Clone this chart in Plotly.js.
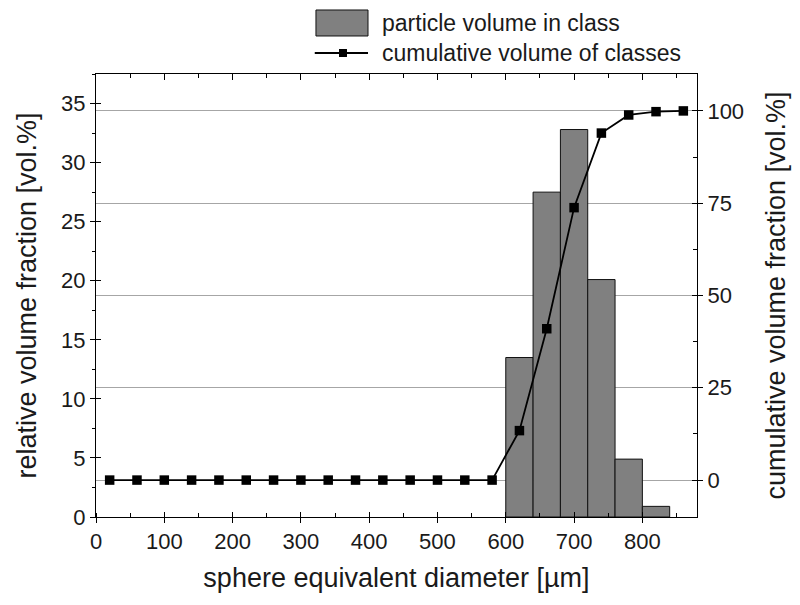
<!DOCTYPE html>
<html>
<head>
<meta charset="utf-8">
<script src="https://cdn.plot.ly/plotly-3.0.1.min.js"></script>
<style>html,body{margin:0;padding:0;background:#fff;}#chart{width:800px;height:605px;}</style>
</head>
<body>
<div id="chart"></div>
<script>
// Histogram classes (bin centres, µm) and relative volume fraction [vol.%]
var binCenters = [620, 660, 700, 740, 780, 820];
var binValues = [13.5, 27.5, 32.8, 20.1, 4.9, 0.9];
var binWidth = 40;

// Cumulative volume of classes [vol.%]
var cumX = [20, 60, 100, 140, 180, 220, 260, 300, 340, 380, 420, 460, 500, 540, 580, 620, 660, 700, 740, 780, 820, 860];
var cumY = [0, 0, 0, 0, 0, 0, 0, 0, 0, 0, 0, 0, 0, 0, 0, 13.4, 41.0, 73.8, 94.0, 98.9, 99.8, 100];

// Tick labels
var xTicks = [0, 100, 200, 300, 400, 500, 600, 700, 800];
var yLeftTicks = [0, 5, 10, 15, 20, 25, 30, 35];
var yRightTicks = [0, 25, 50, 75, 100];

var names = ["particle volume in class", "cumulative volume of classes"];

var FONT = "Arial, 'Liberation Sans', sans-serif";
var TXT = "#1a1a1a";
var TICKSZ = 22, TITLESZ = 27, LEGSZ = 23;

var traces = [
  {
    type: "bar", x: binCenters, y: binValues, width: binWidth,
    marker: {color: "#808080", line: {color: "#111", width: 1}},
    name: names[0], xaxis: "x", yaxis: "y", showlegend: false
  },
  {
    type: "scatter", mode: "lines+markers", x: cumX, y: cumY,
    line: {color: "#000", width: 1.8},
    marker: {symbol: "square", size: 9.5, color: "#000"},
    name: names[1], xaxis: "x", yaxis: "y2", showlegend: false
  },
  // empty helper traces so that the tick-only overlay axes are drawn
  {type: "scatter", x: [], y: [], xaxis: "x2", yaxis: "y", showlegend: false, hoverinfo: "skip"},
  {type: "scatter", x: [], y: [], xaxis: "x3", yaxis: "y", showlegend: false, hoverinfo: "skip"},
  {type: "scatter", x: [], y: [], xaxis: "x", yaxis: "y3", showlegend: false, hoverinfo: "skip"},
  {type: "scatter", x: [], y: [], xaxis: "x", yaxis: "y4", showlegend: false, hoverinfo: "skip"}
];

var xr = [0, 880];
var ylr = [0, 37.5];
var yrr = [-10, 110];

var layout = {
  width: 800, height: 605,
  margin: {l: 96, r: 103, t: 74, b: 88, pad: 0},
  paper_bgcolor: "#fff", plot_bgcolor: "#fff",
  font: {family: FONT, color: TXT, size: TICKSZ},
  bargap: 0,
  showlegend: false,
  xaxis: {
    range: xr, tickmode: "array", tickvals: xTicks, ticktext: xTicks.map(String),
    ticks: "outside", ticklen: 5, tickwidth: 1, tickcolor: "#000",
    minor: {dtick: 50, tick0: 0, ticks: "inside", ticklen: 4, tickcolor: "#000", showgrid: false},
    showline: true, linecolor: "#000", linewidth: 1, mirror: true,
    showgrid: false, zeroline: false,
    tickfont: {size: TICKSZ, family: FONT, color: TXT},
    title: {text: "sphere equivalent diameter [µm]", font: {size: TITLESZ, family: FONT, color: TXT}, standoff: 14},
    automargin: false
  },
  xaxis2: {
    overlaying: "x", anchor: "y", side: "bottom", range: xr,
    tickmode: "array", tickvals: xTicks, ticks: "inside", ticklen: 5, tickcolor: "#000",
    showticklabels: false, showline: false, showgrid: false, zeroline: false
  },
  xaxis3: {
    overlaying: "x", anchor: "y", side: "top", range: xr,
    tickmode: "array", tickvals: xTicks, ticks: "inside", ticklen: 6, tickcolor: "#000",
    minor: {dtick: 50, tick0: 0, ticks: "inside", ticklen: 4, tickcolor: "#000"},
    showticklabels: false, showline: false, showgrid: false, zeroline: false
  },
  yaxis: {
    range: ylr, tickmode: "array", tickvals: yLeftTicks, ticktext: yLeftTicks.map(String),
    ticks: "outside", ticklen: 5, tickwidth: 1, tickcolor: "#000",
    minor: {dtick: 2.5, tick0: 0, ticks: "outside", ticklen: 3, tickcolor: "#000", showgrid: false},
    showline: true, linecolor: "#000", linewidth: 1,
    showgrid: false, zeroline: false,
    tickfont: {size: TICKSZ, family: FONT, color: TXT},
    title: {text: "relative volume fraction [vol.%]", font: {size: TITLESZ, family: FONT, color: TXT}, standoff: 16},
    automargin: false
  },
  yaxis3: {
    overlaying: "y", anchor: "x", side: "left", range: ylr,
    tickmode: "array", tickvals: yLeftTicks, ticks: "inside", ticklen: 5, tickcolor: "#000",
    showticklabels: false, showline: false, showgrid: false, zeroline: false
  },
  yaxis2: {
    overlaying: "y", anchor: "x", side: "right", range: yrr,
    tickmode: "array", tickvals: yRightTicks, ticktext: yRightTicks.map(String),
    ticks: "outside", ticklen: 5, tickwidth: 1, tickcolor: "#000",
    showline: true, linecolor: "#000", linewidth: 1,
    showgrid: true, gridcolor: "#a6a6a6", gridwidth: 1, zeroline: false,
    tickfont: {size: TICKSZ, family: FONT, color: TXT},
    title: {text: "cumulative volume fraction [vol.%]", font: {size: TITLESZ, family: FONT, color: TXT}, standoff: 22},
    automargin: false
  },
  yaxis4: {
    overlaying: "y", anchor: "x", side: "right", range: yrr,
    tickmode: "array", tickvals: yRightTicks, ticks: "inside", ticklen: 5, tickcolor: "#000",
    minor: {dtick: 12.5, tick0: 0, ticks: "inside", ticklen: 4, tickcolor: "#000"},
    showticklabels: false, showline: false, showgrid: false, zeroline: false
  },
  shapes: [
    {type: "rect", xref: "paper", yref: "paper", x0: 0.366, x1: 0.4526, y0: 1.0858, y1: 1.1445,
     fillcolor: "#808080", line: {color: "#111", width: 1}},
    {type: "line", xref: "paper", yref: "paper", x0: 0.364, x1: 0.4526, y0: 1.0474, y1: 1.0474,
     line: {color: "#000", width: 1.8}},
    {type: "rect", xref: "paper", yref: "paper", x0: 0.4043, x1: 0.4176, y0: 1.0384, y1: 1.0564,
     fillcolor: "#000", line: {color: "#000", width: 0}}
  ],
  annotations: [
    {xref: "paper", yref: "paper", x: 0.4726, y: 1.1151, xanchor: "left", yanchor: "middle",
     text: names[0], showarrow: false, font: {size: LEGSZ, family: FONT, color: TXT}},
    {xref: "paper", yref: "paper", x: 0.4726, y: 1.0474, xanchor: "left", yanchor: "middle",
     text: names[1], showarrow: false, font: {size: LEGSZ, family: FONT, color: TXT}}
  ]
};

Plotly.newPlot("chart", traces, layout, {displayModeBar: false, staticPlot: true});
</script>
</body>
</html>
